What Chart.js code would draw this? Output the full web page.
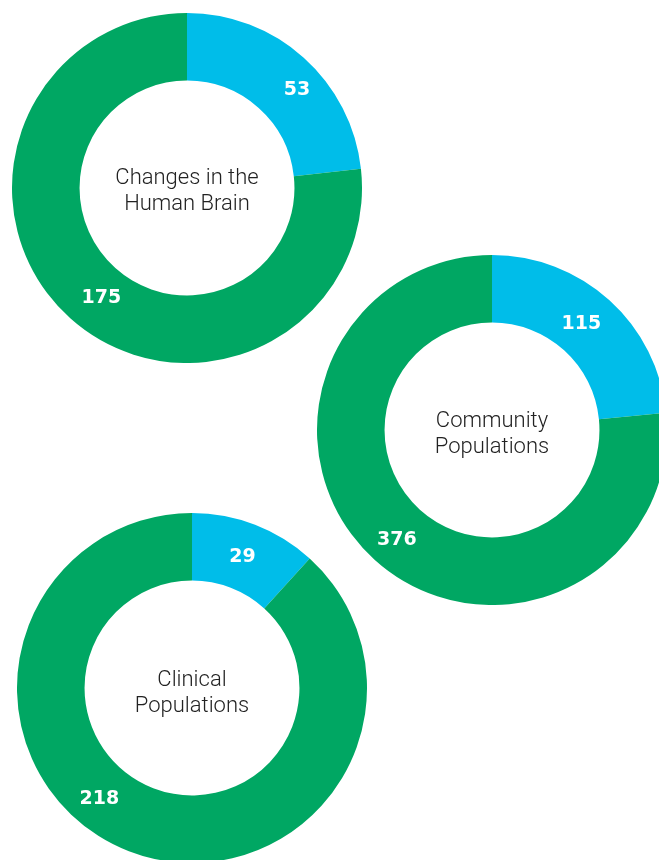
<!DOCTYPE html>
<html>
<head>
<meta charset="utf-8">
<script src="https://cdn.jsdelivr.net/npm/chart.js@4"></script>
<style>
  html, body { margin: 0; padding: 0; background: #ffffff; width: 659px; height: 860px; overflow: hidden; position: relative; }
  canvas { position: absolute; }
  #c1 { left: 12px; top: 13px; }
  #c2 { left: 317px; top: 255px; }
  #c3 { left: 17px; top: 513px; }
</style>
</head>
<body>
<canvas id="c1" width="350" height="350"></canvas>
<canvas id="c2" width="350" height="350"></canvas>
<canvas id="c3" width="350" height="350"></canvas>
<script>
// Data
const categories = ["Blue group", "Green group"];
const brainValues = [53, 175];
const communityValues = [115, 376];
const clinicalValues = [29, 218];
const brainTitle = ["Changes in the", "Human Brain"];
const communityTitle = ["Community", "Populations"];
const clinicalTitle = ["Clinical", "Populations"];

const BLUE = "#00BDE9";
const GREEN = "#00A763";

const ringPlugin = {
  id: "ringText",
  afterDatasetsDraw(chart, args, opts) {
    const ctx = chart.ctx;
    const meta = chart.getDatasetMeta(0);
    const data = chart.data.datasets[0].data;
    ctx.save();
    // value labels
    ctx.fillStyle = "#ffffff";
    ctx.font = "bold 19px 'DejaVu Sans'";
    ctx.textAlign = "center";
    ctx.textBaseline = "middle";
    meta.data.forEach((arc, i) => {
      const p = arc.getProps(["x", "y", "startAngle", "endAngle", "innerRadius", "outerRadius"], true);
      let a = (p.startAngle + p.endAngle) / 2;
      if (opts.labelAngles && opts.labelAngles[i] != null) {
        a = opts.labelAngles[i] * Math.PI / 180 - Math.PI / 2;
      }
      const r = (opts.labelRadii && opts.labelRadii[i]) || (p.innerRadius + p.outerRadius) / 2;
      ctx.fillText(String(data[i]), p.x + Math.cos(a) * r, p.y + 1 + Math.sin(a) * r);
    });
    // centre title
    const p0 = meta.data[0].getProps(["x", "y"], true);
    ctx.fillStyle = "#222222";
    ctx.font = "300 22px Roboto";
    const lines = opts.title || [];
    const lh = 26;
    const startY = p0.y + 3 + (opts.titleShift || 0) - (lines.length - 1) * lh / 2;
    lines.forEach((t, k) => ctx.fillText(t, p0.x, startY + k * lh));
    ctx.restore();
  }
};

function makeRing(id, values, title, labelAngles, labelRadii, titleShift) {
  new Chart(document.getElementById(id), {
    type: "doughnut",
    data: {
      labels: categories,
      datasets: [{
        data: values,
        backgroundColor: [BLUE, GREEN],
        borderWidth: 0,
        hoverOffset: 0
      }]
    },
    options: {
      responsive: false,
      animation: false,
      cutout: "61.4%",
      layout: { padding: 0 },
      plugins: {
        legend: { display: false },
        tooltip: { enabled: false },
        ringText: { title: title, labelAngles: labelAngles, labelRadii: labelRadii, titleShift: titleShift }
      }
    },
    plugins: [ringPlugin]
  });
}

makeRing("c1", brainValues, brainTitle, [48, 218], [148, 139], 0);
makeRing("c2", communityValues, communityTitle, [40, 221], [139, 145], 1);
makeRing("c3", clinicalValues, clinicalTitle, [21, 220], [141, 144], 2);
</script>
</body>
</html>
